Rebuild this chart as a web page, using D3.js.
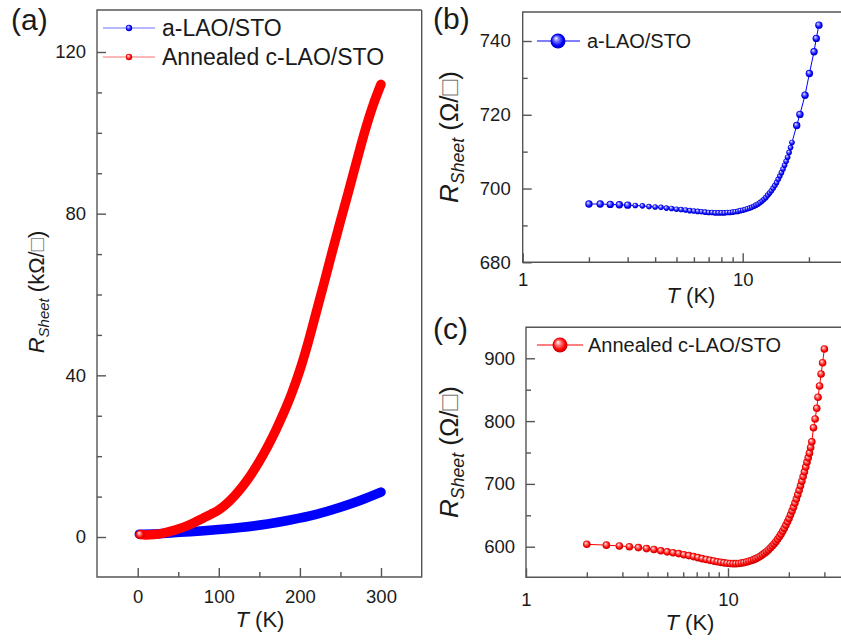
<!DOCTYPE html>
<html><head><meta charset="utf-8">
<script src="https://cdn.jsdelivr.net/npm/d3@7"></script>
<style>
body{margin:0;background:#fff}
svg{display:block}
text{font-family:"Liberation Sans",Arial,Helvetica,sans-serif;fill:#1a1a1a}
</style>
</head><body>
<svg id="c" width="841" height="643"></svg>
<script>
// ---------------- DATA ----------------
// Panel (a): R_sheet (kOhm/sq) vs T (K)
const aBlueT = [2, 20, 44, 65, 100, 126, 160, 188, 220, 249, 275, 300];
const aBlueR = [0.70, 0.75, 1.05, 1.3, 1.85, 2.35, 3.2, 4.2, 5.6, 7.3, 9.1, 11.1];
const aRedT = [3, 10, 20, 30, 40, 50, 60, 70, 80, 90, 100, 110, 120, 130, 140, 150, 160, 170, 180, 190,
  200, 210, 220, 230, 240, 250, 260, 270, 280, 290, 300];
const aRedR = [0.6, 0.5, 0.6, 0.9, 1.4, 2.0, 2.7, 3.6, 4.6, 5.6, 6.7, 8.3, 10.3, 12.7, 15.5, 18.7, 22.3, 26.3, 30.7, 35.6,
  41.3, 48.0, 55.5, 63.0, 70.7, 78.2, 85.5, 93.0, 100.3, 106.7, 112.0];
const aLegend = ["a-LAO/STO", "Annealed c-LAO/STO"];

// Panel (b): a-LAO/STO, R_sheet (Ohm/sq) vs T (K)
const bT = [2.00, 2.25, 2.50, 2.75, 3.00, 3.25, 3.50, 3.75, 4.00, 4.25, 4.50, 4.75, 5.00, 5.25, 5.50, 5.75,
  6.00, 6.25, 6.50, 6.75, 7.00, 7.25, 7.50, 7.75, 8.00, 8.25, 8.50, 8.75, 9.00, 9.25, 9.50, 9.75,
  10.00, 10.25, 10.50, 10.75, 11.00, 11.25, 11.50, 11.75, 12.00, 12.25, 12.50, 12.75, 13.00, 13.25, 13.50, 13.75,
  14.00, 14.25, 14.50, 14.75, 15.00, 15.25, 15.50, 15.75, 16.00, 16.25, 16.50, 16.75,
  17.6, 18.2, 19.2, 20.1, 21.1, 21.6, 22.2];
const bR = [695.8, 695.8, 695.7, 695.6, 695.5, 695.4, 695.3, 695.1, 695.0, 694.9, 694.7, 694.6, 694.4, 694.3, 694.2, 694.0,
  693.9, 693.8, 693.7, 693.6, 693.5, 693.5, 693.4, 693.4, 693.4, 693.4, 693.5, 693.5, 693.6, 693.7, 693.8, 694.0,
  694.1, 694.3, 694.5, 694.7, 694.9, 695.2, 695.5, 695.8, 696.2, 696.6, 697.1, 697.6, 698.2, 698.8, 699.4, 700.1,
  700.8, 701.6, 702.5, 703.4, 704.3, 705.3, 706.3, 707.4, 708.5, 709.8, 711.1, 712.5,
  717.1, 720.1, 725.3, 731.2, 737.1, 740.7, 744.3];
const bLegend = "a-LAO/STO";

// Panel (c): Annealed c-LAO/STO, R_sheet (Ohm/sq) vs T (K)
const cT = [2.0, 2.5, 2.9, 3.25, 3.6, 3.95, 4.3, 4.65, 5.0, 5.35, 5.7, 6.05, 6.4, 6.75, 7.1, 7.45, 7.8, 8.15, 8.5, 8.85,
  9.2, 9.55, 9.9, 10.25, 10.6, 10.95, 11.3, 11.65, 12.0, 12.35, 12.7, 13.05, 13.4, 13.75, 14.1, 14.45, 14.8, 15.15,
  15.5, 15.85, 16.2, 16.55, 16.9, 17.25, 17.6, 17.95, 18.3, 18.65, 19.0, 19.35, 19.7, 20.05, 20.4, 20.75, 21.1,
  21.45, 21.8, 22.15, 22.5, 22.85, 23.2, 23.55, 23.9, 24.25, 24.6, 24.95, 25.3, 25.65, 26.0,
  26.5, 27.0, 27.5, 27.9, 28.4, 28.9, 29.4, 30.0];
const cR = [603.8, 602.5, 601.2, 600.0, 598.6, 597.0, 595.6, 593.5, 591.8, 590.4, 589.0, 587.2, 585.8, 584.2, 582.6, 581.0, 579.6, 578.3, 577.1, 576.0,
  575.1, 574.3, 573.6, 573.2, 573.0, 573.0, 573.3, 573.9, 574.7, 575.6, 576.7, 578.0, 579.4, 581.0, 582.8, 584.8, 587.0, 589.4,
  592.0, 594.8, 597.8, 601.0, 604.4, 608.0, 611.8, 615.8, 620.0, 624.6, 629.4, 634.4, 639.6, 645.0, 650.8, 656.8, 663.0,
  669.4, 676.0, 682.8, 689.8, 697.0, 704.3, 711.7, 719.2, 726.8, 734.5, 741.5, 749.0, 758.0, 767.0,
  789.5, 803.3, 820.4, 837.9, 855.9, 875.0, 893.0, 914.8];
const cLegend = "Annealed c-LAO/STO";

// Ticks
const aXTicks = [0, 100, 200, 300], aXMinor = [50, 150, 250];
const aYTicks = [0, 40, 80, 120], aYMinor = [10, 20, 30, 50, 60, 70, 90, 100, 110];
const bXTicks = [1, 10], bXMinor = [2, 3, 4, 5, 6, 7, 8, 9, 20];
const bYTicks = [680, 700, 720, 740], bYMinor = [690, 710, 730];
const cXTicks = [1, 10], cXMinor = [2, 3, 4, 5, 6, 7, 8, 9, 20, 30];
const cYTicks = [600, 700, 800, 900], cYMinor = [650, 750, 850];

// ---------------- DRAWING ----------------
const svg = d3.select("#c");
const BLUE = "#0000ff", RED = "#ff0000", AX = "#555";

const defs = svg.append("defs");
function ball(id, light, main, dark) {
  const g = defs.append("radialGradient").attr("id", id)
    .attr("cx", "50%").attr("cy", "50%").attr("r", "55%").attr("fx", "35%").attr("fy", "30%");
  g.append("stop").attr("offset", "0%").attr("stop-color", "#ffffff");
  g.append("stop").attr("offset", "30%").attr("stop-color", light);
  g.append("stop").attr("offset", "70%").attr("stop-color", main);
  g.append("stop").attr("offset", "100%").attr("stop-color", dark);
}
ball("gb", "#7a7aff", BLUE, "#0000a8");
ball("gr", "#ff8080", RED, "#b00000");

function frame(box) {
  svg.append("path")
    .attr("d", `M${box.r},${box.t}H${box.l}V${box.b}H${box.r}` + (box.closeRight ? `V${box.t}` : ""))
    .attr("fill", "none").attr("stroke", AX).attr("stroke-width", 1.4);
}

function axes(box, x, y, xt, xm, yt, ym, xfmt, xPad, yPad, fs) {
  const style = g => {
    g.select(".domain").remove();
    g.selectAll("line").attr("stroke", AX).attr("stroke-width", 1.4);
    g.selectAll("text").attr("font-size", fs).attr("fill", "#1a1a1a")
      .style("font-family", '"Liberation Sans",Arial,sans-serif');
  };
  svg.append("g").attr("transform", `translate(0,${box.b})`)
    .call(d3.axisBottom(x).tickValues(xt).tickFormat(xfmt).tickSizeInner(-9).tickSizeOuter(0).tickPadding(xPad)).call(style);
  svg.append("g").attr("transform", `translate(0,${box.b})`)
    .call(d3.axisBottom(x).tickValues(xm).tickFormat("").tickSizeInner(-5).tickSizeOuter(0)).call(style);
  svg.append("g").attr("transform", `translate(${box.l},0)`)
    .call(d3.axisLeft(y).tickValues(yt).tickFormat(d3.format("d")).tickSizeInner(-9).tickSizeOuter(0).tickPadding(yPad)).call(style);
  svg.append("g").attr("transform", `translate(${box.l},0)`)
    .call(d3.axisLeft(y).tickValues(ym).tickFormat("").tickSizeInner(-5).tickSizeOuter(0)).call(style);
}

function yTitle(cx, cy, unit, k) {
  const t = svg.append("text").attr("transform", `translate(${cx},${cy}) rotate(-90)`)
    .attr("text-anchor", "middle").attr("font-size", 22 * k);
  t.append("tspan").attr("font-style", "italic").text("R");
  t.append("tspan").attr("font-style", "italic").attr("font-size", 15 * k).attr("dy", 5 * k).text("Sheet");
  t.append("tspan").attr("dy", -5 * k).text(" (" + unit);
  t.append("tspan").attr("fill", "#777").style("fill", "#777").text("\u25A1");
  t.append("tspan").text(")");
}
function xTitle(cx, by) {
  const t = svg.append("text").attr("x", cx).attr("y", by).attr("text-anchor", "middle").attr("font-size", 22);
  t.append("tspan").attr("font-style", "italic").text("T");
  t.append("tspan").text(" (K)");
}
function panelLabel(x, y, s) {
  svg.append("text").attr("x", x).attr("y", y).attr("font-size", 30).text(s);
}

// ---------- Panel (a) ----------
const boxA = {l: 97, r: 421.7, t: 10, b: 577, closeRight: true};
const xA = d3.scaleLinear().domain([0, 300]).range([137.7, 381]);
const yA = d3.scaleLinear().domain([0, 120]).range([537, 52]);
axes(boxA, xA, yA, aXTicks, aXMinor, aYTicks, aYMinor, d3.format("d"), 13, 11, 18.5);
frame(boxA);

const lineA = d3.line().x(d => xA(d[0])).y(d => yA(d[1])).curve(d3.curveMonotoneX);
const blueA = aBlueT.map((t, i) => [t, aBlueR[i]]);
const redA = aRedT.map((t, i) => [t, aRedR[i]]);
svg.append("path").attr("d", lineA(blueA)).attr("fill", "none").attr("stroke", BLUE)
  .attr("stroke-width", 9.5).attr("stroke-linecap", "round").attr("stroke-linejoin", "round");
svg.append("path").attr("d", lineA(redA)).attr("fill", "none").attr("stroke", RED)
  .attr("stroke-width", 9.5).attr("stroke-linecap", "round").attr("stroke-linejoin", "round");
svg.append("circle").attr("cx", xA(aRedT[0])).attr("cy", yA(aRedR[0])).attr("r", 4.5).attr("fill", "url(#gr)");

// legend (a)
[[aLegend[0], "#7070ff", "gb", 28], [aLegend[1], "#ff7070", "gr", 57]].forEach(([lab, lc, grad, ly]) => {
  svg.append("line").attr("x1", 103).attr("x2", 155).attr("y1", ly).attr("y2", ly).attr("stroke", lc).attr("stroke-width", 1.2);
  svg.append("circle").attr("cx", 129).attr("cy", ly).attr("r", 3.2).attr("fill", `url(#${grad})`);
  svg.append("text").attr("x", 162).attr("y", ly + 8).attr("font-size", 23).text(lab);
});
yTitle(44, 292, "k\u03A9/", 1);
xTitle(260, 627);
panelLabel(11, 30, "(a)");

// ---------- Panel (b) ----------
const boxB = {l: 522.7, r: 842, t: 12, b: 262.3, closeRight: false};
const xB = d3.scaleLog().domain([1, 10]).range([522.7, 742.7]);
const yB = d3.scaleLinear().domain([680, 740]).range([262.3, 41]);
axes(boxB, xB, yB, bXTicks, bXMinor, bYTicks, bYMinor, d3.format("d"), 11, 12, 18.5);
frame(boxB);
const bData = bT.map((t, i) => [t, bR[i]]);
svg.append("path").attr("d", d3.line().x(d => xB(d[0])).y(d => yB(d[1]))(bData))
  .attr("fill", "none").attr("stroke", BLUE).attr("stroke-width", 1);
svg.append("g").selectAll("circle").data(bData).join("circle")
  .attr("cx", d => xB(d[0])).attr("cy", d => yB(d[1]))
  .attr("r", d => (d[0] > 3.1 && d[0] < 17) ? 2.8 : 3.7)
  .attr("fill", "url(#gb)");
svg.append("line").attr("x1", 537).attr("x2", 580).attr("y1", 41).attr("y2", 41).attr("stroke", BLUE).attr("stroke-width", 1);
svg.append("circle").attr("cx", 558).attr("cy", 41).attr("r", 7.5).attr("fill", "url(#gb)");
svg.append("text").attr("x", 587).attr("y", 48).attr("font-size", 20).text(bLegend);
yTitle(458, 137, "\u03A9/", 1.18);
xTitle(691, 303);
panelLabel(433, 29, "(b)");

// ---------- Panel (c) ----------
const boxC = {l: 526, r: 842, t: 327.3, b: 577.3, closeRight: false};
const xC = d3.scaleLog().domain([1, 10]).range([526, 728]);
const yC = d3.scaleLinear().domain([600, 900]).range([546.7, 358.3]);
axes(boxC, xC, yC, cXTicks, cXMinor, cYTicks, cYMinor, d3.format("d"), 16, 11, 18.5);
frame(boxC);
const cData = cT.map((t, i) => [t, cR[i]]);
svg.append("path").attr("d", d3.line().x(d => xC(d[0])).y(d => yC(d[1]))(cData))
  .attr("fill", "none").attr("stroke", RED).attr("stroke-width", 1);
svg.append("g").selectAll("circle").data(cData).join("circle")
  .attr("cx", d => xC(d[0])).attr("cy", d => yC(d[1]))
  .attr("r", 3.8).attr("fill", "url(#gr)");
svg.append("line").attr("x1", 537).attr("x2", 583).attr("y1", 345).attr("y2", 345).attr("stroke", RED).attr("stroke-width", 1);
svg.append("circle").attr("cx", 560).attr("cy", 345).attr("r", 7.5).attr("fill", "url(#gr)");
svg.append("text").attr("x", 588).attr("y", 352).attr("font-size", 20).text(cLegend);
yTitle(458, 452, "\u03A9/", 1.18);
xTitle(690, 630);
panelLabel(433, 339, "(c)");
</script>
</body></html>
